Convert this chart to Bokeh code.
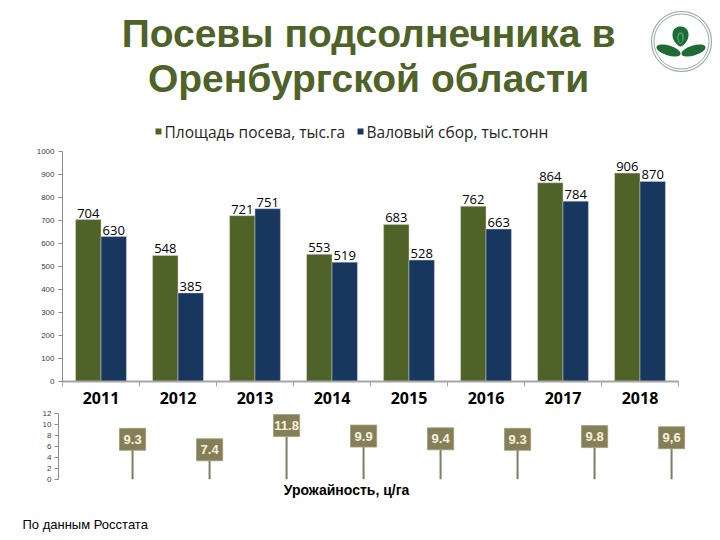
import numpy as np
from bokeh.plotting import figure
from bokeh.layouts import column
from bokeh.models import ColumnDataSource, FixedTicker, Range1d
from bokeh.core.properties import value
from bokeh.embed import file_html
from bokeh.resources import INLINE

# ---------------- data ----------------
title_lines = ["Посевы подсолнечника в", "Оренбургской области"]
years = ["2011", "2012", "2013", "2014", "2015", "2016", "2017", "2018"]
area = [704, 548, 721, 553, 683, 762, 864, 906]          # Площадь посева, тыс.га
harvest = [630, 385, 751, 519, 528, 663, 784, 870]       # Валовый сбор, тыс.тонн
series_names = ["Площадь посева, тыс.га", "Валовый сбор, тыс.тонн"]
yield_vals = [9.3, 7.4, 11.8, 9.9, 9.4, 9.3, 9.8, 9.6]   # Урожайность, ц/га
yield_labels = ["9.3", "7.4", "11.8", "9.9", "9.4", "9.3", "9.8", "9,6"]
main_ticks = list(range(0, 1001, 100))
yield_ticks = list(range(0, 13, 2))
yield_caption = "Урожайность, ц/га"
source_note = "По данным Росстата"

GREEN = "#4F6228"
NAVY = "#17375E"
TITLE_C = "#4F6228"
SIGN = "#857F58"
POLE = "#807C66"
AX = "#8C8C8C"
LOGO_G = "#1F6B36"

W = 720


def blank(h):
    f = figure(width=W, height=h, x_range=Range1d(0, W), y_range=Range1d(0, h),
               toolbar_location=None, output_backend="svg", min_border=0,
               outline_line_color=None, frame_align=False)
    f.axis.visible = False
    f.grid.visible = False
    return f


# ---------------- header (title + logo + legend) ----------------
hdr_h = 145
hdr = blank(hdr_h)
hdr.text(x=[368, 368], y=[hdr_h - 33, hdr_h - 78], text=title_lines, text_align="center",
         text_baseline="middle", text_font=value("Liberation Sans"),
         text_font_style="bold", text_font_size="39px", text_color=TITLE_C)
# logo
lx, ly = 681, hdr_h - 41
hdr.circle(x=[lx], y=[ly], radius=30, fill_color=None, line_color="#93AB9B", line_width=1.1)
hdr.circle(x=[lx], y=[ly], radius=27.5, fill_color=None, line_color="#93AB9B", line_width=1.0)
t = np.linspace(0, 2 * np.pi, 90)
dx = 7.5 * np.sin(t) * (1 - 0.4 * np.cos(t))
dy = -8 * np.cos(t)
dy = np.where(dy > 0, dy * 1.5, dy)
dcy = hdr_h - 38
hdr.patch(x=lx - 1 + dx, y=dcy + dy, fill_color=LOGO_G, line_color=None)
hdr.patch(x=lx - 1 + 0.42 * dx, y=dcy - 1 + 0.6 * dy, fill_color="#4C9A63", line_color=None)
hdr.patch(x=lx - 1 + 0.22 * dx, y=dcy - 1 + 0.45 * dy, fill_color=LOGO_G, line_color=None)
hdr.ellipse(x=[lx - 13, lx + 12], y=[hdr_h - 50, hdr_h - 50], width=25, height=10,
            angle=[-0.3, 0.3], fill_color=LOGO_G, line_color=None)
# legend (manual)
leg_sq_x = [158, 360]
leg_y = hdr_h - 131
hdr.rect(x=leg_sq_x, y=[leg_y, leg_y], width=6, height=6, fill_color=[GREEN, NAVY],
         line_color=None)
hdr.text(x=[x + 6 for x in leg_sq_x], y=[leg_y, leg_y], text=series_names, text_align="left",
         text_baseline="middle", text_font=value("Open Sans"), text_font_size="15.5px",
         text_color="#262626")

# ---------------- main bar chart ----------------
idx = np.arange(len(years)) + 0.5
src = ColumnDataSource(dict(xa=idx - 0.165, xh=idx + 0.165, area=area, harvest=harvest,
                            la=[str(v) for v in area], lh=[str(v) for v in harvest]))
p = figure(width=W, height=264, x_range=Range1d(0, len(years)), y_range=Range1d(0, 1000),
           toolbar_location=None, output_backend="svg", frame_align=False,
           min_border_left=62, min_border_right=42, min_border_top=6, min_border_bottom=28,
           outline_line_color=None)
p.grid.visible = False
p.vbar(x="xa", top="area", width=0.33, source=src, fill_color=GREEN,
       line_color="#D0D4C8", line_width=0.5)
p.vbar(x="xh", top="harvest", width=0.33, source=src, fill_color=NAVY,
       line_color="#C8CDD6", line_width=0.5)
p.text(x="xa", y="area", text="la", source=src, text_align="center", text_baseline="bottom",
       y_offset=-2, text_font=value("Open Sans"), text_font_size="13px", text_color="black")
p.text(x="xh", y="harvest", text="lh", source=src, text_align="center", text_baseline="bottom",
       y_offset=-2, text_font=value("Open Sans"), text_font_size="13px", text_color="black")

p.yaxis.ticker = FixedTicker(ticks=main_ticks)
p.yaxis.major_label_text_font = "Liberation Sans"
p.yaxis.major_label_text_font_size = "8px"
p.yaxis.major_label_text_color = "#404040"
p.yaxis.axis_line_color = AX
p.yaxis.major_tick_line_color = AX
p.yaxis.major_tick_out = 4
p.yaxis.major_tick_in = 0
p.yaxis.minor_tick_line_color = None
p.yaxis.major_label_standoff = 4

p.xaxis.ticker = FixedTicker(ticks=list(idx), minor_ticks=list(range(len(years) + 1)))
p.xaxis.major_label_overrides = {float(x): y for x, y in zip(idx, years)}
p.xaxis.major_label_text_font = "Open Sans"
p.xaxis.major_label_text_font_style = "bold"
p.xaxis.major_label_text_font_size = "16px"
p.xaxis.major_label_text_color = "black"
p.xaxis.axis_line_color = "#A6A6A6"
p.xaxis.axis_line_width = 2
p.xaxis.major_tick_line_color = None
p.xaxis.major_tick_out = 0
p.xaxis.major_tick_in = 0
p.xaxis.minor_tick_line_color = "#A6A6A6"
p.xaxis.minor_tick_out = 5
p.xaxis.minor_tick_in = 0
p.xaxis.major_label_standoff = 5

# ---------------- yield chart ----------------
px_per_cat = 77.0
y_l, y_r = 58, 690
q = figure(width=W, height=74,
           x_range=Range1d((y_l - 62) / px_per_cat, (y_r - 62) / px_per_cat),
           y_range=Range1d(0, 12), toolbar_location=None, output_backend="svg",
           frame_align=False,
           min_border_left=y_l, min_border_right=W - y_r,
           min_border_top=4, min_border_bottom=4, outline_line_color=None)
q.grid.visible = False
q.xaxis.visible = False
q.yaxis.ticker = FixedTicker(ticks=yield_ticks)
q.yaxis.major_label_text_font = "Liberation Sans"
q.yaxis.major_label_text_font_size = "8px"
q.yaxis.major_label_text_color = "#404040"
q.yaxis.axis_line_color = AX
q.yaxis.major_tick_line_color = AX
q.yaxis.major_tick_out = 4
q.yaxis.major_tick_in = 0
q.yaxis.minor_tick_line_color = None
q.yaxis.major_label_standoff = 3

sign_h = 4.0
half_w = 0.17
pole_x = idx + 0.41
ysrc = ColumnDataSource(dict(x=pole_x, v=yield_vals, lab=yield_labels,
                             b=[v - sign_h for v in yield_vals],
                             mid=[v - sign_h / 2 for v in yield_vals],
                             zero=[0] * len(yield_vals),
                             l=pole_x - half_w, r=pole_x + half_w))
q.segment(x0="x", y0="zero", x1="x", y1="b", source=ysrc, line_color=POLE, line_width=2)
q.quad(left="l", right="r", top="v", bottom="b", source=ysrc, fill_color=SIGN,
       line_color="#A29C78", line_width=0.8)
q.text(x="x", y="mid", text="lab", source=ysrc, text_align="center", text_baseline="middle",
       text_font=value("Liberation Sans"), text_font_style="bold", text_font_size="13px",
       text_color="#F6F2DF")

# ---------------- footer (caption + source) ----------------
ftr_h = 540 - 145 - 264 - 74
ftr = blank(ftr_h)
ftr.text(x=[346], y=[540 - 489], text=[yield_caption], text_align="center",
         text_baseline="middle", text_font=value("Liberation Sans"), text_font_style="bold",
         text_font_size="14px", text_color="black")
ftr.text(x=[22], y=[540 - 524], text=[source_note], text_align="left",
         text_baseline="middle", text_font=value("Liberation Sans"), text_font_size="13px",
         text_color="black")

layout = column(hdr, p, q, ftr, spacing=0)
open("out.html", "w").write(file_html(layout, INLINE))
